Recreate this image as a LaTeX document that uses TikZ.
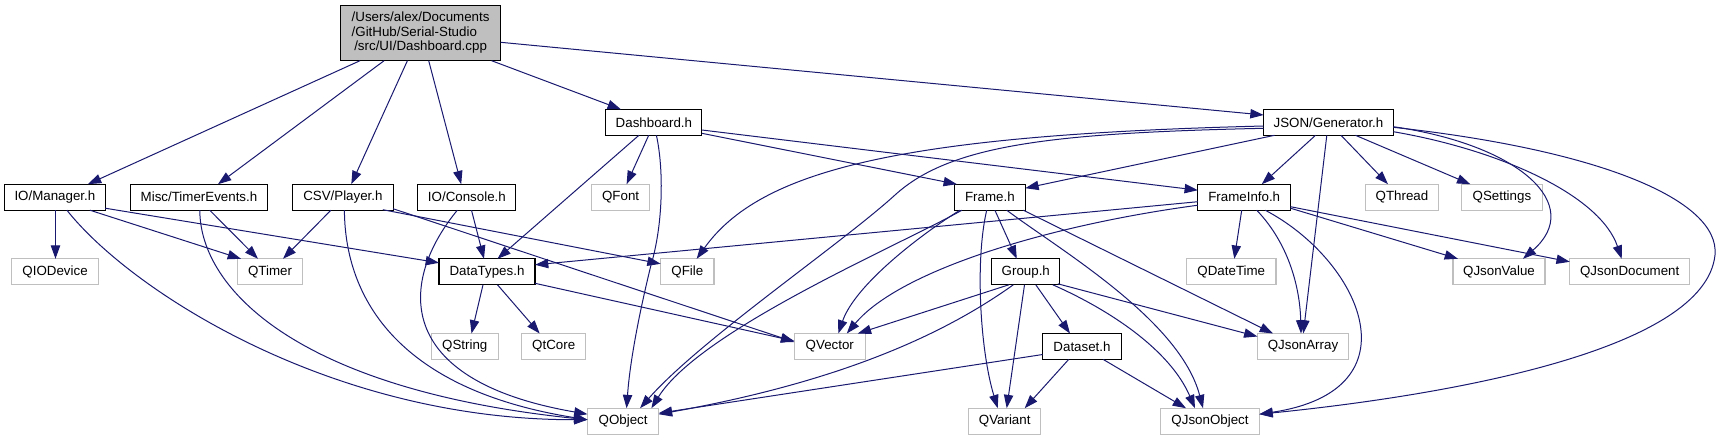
\documentclass[tikz,border=0pt]{standalone}
\usepackage{fontspec}
\setmainfont{Liberation Sans}
\usetikzlibrary{arrows.meta,calc}
\definecolor{edgeblue}{HTML}{191970}
\definecolor{extgrey}{HTML}{BFBFBF}
\definecolor{rootfill}{HTML}{BFBFBF}
\begin{document}
\begin{tikzpicture}[x=0.75pt,y=-0.75pt,
  every node/.style={font=\fontsize{10pt}{11pt}\selectfont, inner sep=0pt, minimum height=19.5pt, fill=white, line width=0.8pt},
  proj/.style={draw=black},
  ext/.style={draw=extgrey},
  rootbox/.style={draw=black, fill=rootfill, minimum height=41.25pt, minimum width=120pt},
  link/.style={draw=edgeblue, line width=0.75pt, -{Triangle[length=10pt,width=7pt]}}]
\useasboundingbox (0,0) rectangle (1724,440);

% nodes
\node[rootbox] (root) at (420.6,33.2) {\begin{tabular}{@{}l@{}}/Users/alex/Documents\\/GitHub/Serial-Studio\\\multicolumn{1}{@{}c@{}}{/src/UI/Dashboard.cpp}\end{tabular}};
\node[proj, minimum width=72pt] (dash) at (653.9,122.3) {Dashboard.h};
\node[proj, minimum width=97.3pt] (gen) at (1328.5,122.3) {JSON/Generator.h};

\node[proj, minimum width=75.5pt] (mgr) at (54.9,197.2) {IO/Manager.h};
\node[proj, minimum width=103.4pt] (tev) at (199,197.2) {Misc/TimerEvents.h};
\node[proj, minimum width=75.2pt] (csv) at (342.9,197.2) {CSV/Player.h};
\node[proj, minimum width=73.5pt] (con) at (466.9,197.2) {IO/Console.h};
\node[ext, minimum width=44pt] (qfont) at (620.6,197.2) {QFont};
\node[proj, minimum width=53.1pt] (frame) at (989.9,197.2) {Frame.h};
\node[proj, minimum width=69.5pt] (finfo) at (1244.2,197.2) {FrameInfo.h};
\node[ext, minimum width=54.2pt] (qthread) at (1402,197.2) {QThread};
\node[ext, minimum width=60.6pt] (qsettings) at (1501.9,197.2) {QSettings};

\node[ext, minimum width=65.4pt] (qiodev) at (55.1,271.8) {QIODevice};
\node[ext, minimum width=49pt] (qtimer) at (270,271.8) {QTimer};
\node[proj, minimum width=72pt] (dtypes) at (487,271.8) {DataTypes.h};
\node[ext, minimum width=40pt] (qfile) at (687.3,271.8) {QFile};
\node[proj, minimum width=51.2pt] (group) at (1025.8,271.8) {Group.h};
\node[ext, minimum width=67pt] (qdatetime) at (1231.3,271.8) {QDateTime};
\node[ext, minimum width=69pt] (qjsonvalue) at (1499,271.8) {QJsonValue};
\node[ext, minimum width=89.9pt] (qjsondoc) at (1629.7,271.8) {QJsonDocument};

\node[ext, minimum width=50.3pt] (qstring) at (464.8,346.5) {QString};
\node[ext, minimum width=48.2pt] (qtcore) at (553.7,346.5) {QtCore};
\node[ext, minimum width=53.3pt] (qvector) at (829.8,346.5) {QVector};
\node[proj, minimum width=59pt] (dataset) at (1082,346.5) {Dataset.h};
\node[ext, minimum width=68.5pt] (qjsonarray) at (1303,346.5) {QJsonArray};

\node[ext, minimum width=53.4pt] (qobject) at (623.1,421.2) {QObject};
\node[ext, minimum width=54pt] (qvariant) at (1004.7,421.2) {QVariant};
\node[ext, minimum width=74pt] (qjsonobject) at (1210,421.2) {QJsonObject};

% root edges
\draw[link] ($(root)+(-60.6,27.5)$) -- ($(mgr)+(33,-13)$);
\draw[link] ($(root)+(-36.5,27.5)$) -- ($(tev)+(19,-13)$);
\draw[link] ($(root)+(-13.2,27.5)$) -- ($(csv)+(8.4,-13)$);
\draw[link] ($(root)+(8.1,27.5)$) -- ($(con)+(-5.7,-13)$);
\draw[link] ($(root)+(71,27.5)$) -- ($(dash)+(-33,-13)$);
\draw[link] ($(root)+(80,9.1)$) -- ($(gen)+(-64.85,-7.3)$);

% Dashboard.h
\draw[link] ($(dash)+(-15,13)$) -- ($(dtypes)+(10.5,-13)$);
\draw[link] ($(dash)+(-5.2,13)$) -- ($(qfont)+(6,-13)$);
\draw[link] ($(dash)+(2.5,13)$) .. controls (664,170) and (663,225) .. (651,265) .. controls (640,310) and (630,360) .. ($(qobject)+(3.5,-13)$);
\draw[link] ($(dash)+(48,11)$) -- ($(frame)+(-33,-13)$);
\draw[link] ($(dash)+(48,7.7)$) -- ($(finfo)+(-46.3,-7)$);

% JSON/Generator.h
\draw[link] ($(gen)+(-54,13)$) -- ($(frame)+(35.4,-9)$);
\draw[link] ($(gen)+(-13,13)$) -- ($(finfo)+(17.6,-13)$);
\draw[link] ($(gen)+(12.5,13)$) -- ($(qthread)+(-14,-13)$);
\draw[link] ($(gen)+(27,13)$) -- ($(qsettings)+(-31.6,-13)$);
\draw[link] ($(gen)+(-1.7,13)$) -- ($(qjsonarray)+(0.3,-13)$);
\draw[link] ($(gen)+(-64.85,3.7)$) .. controls (900,135) and (760,170) .. ($(qfile)+(9.4,-13)$);
\draw[link] ($(gen)+(-64.85,6)$) .. controls (1050,133) and (950,145) .. (895,195) .. controls (840,245) and (700,340) .. ($(qobject)+(17,-13)$);
\draw[link] ($(gen)+(64.85,4.4)$) .. controls (1520,145) and (1585,205) .. ($(qjsonvalue)+(24,-13)$);
\draw[link] ($(gen)+(64.85,9.4)$) .. controls (1500,150) and (1600,195) .. ($(qjsondoc)+(-8,-13)$);
\draw[link] ($(gen)+(64.85,5)$) .. controls (1600,150) and (1720,200) .. (1715,255) .. controls (1705,350) and (1450,395) .. ($(qjsonobject)+(49.35,-7)$);

% Frame.h
\draw[link] ($(frame)+(-28,13)$) .. controls (900,245) and (700,330) .. ($(qobject)+(28.3,-13)$);
\draw[link] ($(frame)+(-30,13)$) .. controls (920,235) and (855,285) .. ($(qvector)+(8.5,-13)$);
\draw[link] ($(frame)+(-3.2,13)$) .. controls (975,260) and (980,350) .. ($(qvariant)+(-7,-13)$);
\draw[link] ($(frame)+(5,13)$) -- ($(group)+(-9,-13)$);
\draw[link] ($(frame)+(16.8,13)$) .. controls (1060,250) and (1180,320) .. ($(qjsonobject)+(-7,-13)$);
\draw[link] ($(frame)+(33.4,13)$) -- ($(qjsonarray)+(-30,-13)$);

% FrameInfo.h
\draw[link] ($(finfo)+(-46.3,4.5)$) -- ($(dtypes)+(48,-7)$);
\draw[link] ($(finfo)+(-46.3,8)$) .. controls (1050,225) and (900,270) .. ($(qvector)+(17,-13)$);
\draw[link] ($(finfo)+(-2.5,13)$) -- ($(qdatetime)+(3,-13)$);
\draw[link] ($(finfo)+(12.5,13)$) .. controls (1290,245) and (1300,290) .. ($(qjsonarray)+(-2,-13)$);
\draw[link] ($(finfo)+(21,13)$) .. controls (1360,260) and (1420,390) .. ($(qjsonobject)+(49.35,-7)$);
\draw[link] ($(finfo)+(46.3,11)$) -- ($(qjsonvalue)+(-41,-13)$);
\draw[link] ($(finfo)+(46.3,9.5)$) -- ($(qjsondoc)+(-59.9,-10)$);

% Group.h
\draw[link] ($(group)+(-17,13)$) -- ($(qvector)+(28,-13)$);
\draw[link] ($(group)+(-12.5,13)$) .. controls (950,330) and (850,380) .. ($(qobject)+(35.6,-7)$);
\draw[link] ($(group)+(-1.3,13)$) -- ($(qvariant)+(2,-13)$);
\draw[link] ($(group)+(10,13)$) -- ($(dataset)+(-12,-13)$);
\draw[link] ($(group)+(32,12)$) -- ($(qjsonarray)+(-45.6,-10)$);
\draw[link] ($(group)+(27,13)$) .. controls (1110,310) and (1170,350) .. ($(qjsonobject)+(-15,-13)$);

% Dataset.h
\draw[link] ($(dataset)+(-39.35,8)$) -- ($(qobject)+(35.6,-8)$);
\draw[link] ($(dataset)+(-13.4,13)$) -- ($(qvariant)+(20,-13)$);
\draw[link] ($(dataset)+(21.3,13)$) -- ($(qjsonobject)+(-24,-13)$);

% DataTypes.h
\draw[link] ($(dtypes)+(-4,13)$) -- ($(qstring)+(6.7,-13)$);
\draw[link] ($(dtypes)+(10.5,13)$) -- ($(qtcore)+(-14,-13)$);
\draw[link] ($(dtypes)+(48,11.5)$) -- ($(qvector)+(-35.5,-5.5)$);

% IO/Manager.h
\draw[link] ($(mgr)+(0.6,13)$) -- ($(qiodev)+(0.4,-13)$);
\draw[link] ($(mgr)+(35,13)$) -- ($(qtimer)+(-29,-13)$);
\draw[link] ($(mgr)+(50.3,11)$) -- ($(dtypes)+(-48,-9)$);
\draw[link] ($(mgr)+(12,13)$) .. controls (130,290) and (330,420) .. ($(qobject)+(-35.6,-1.5)$);

% Misc/TimerEvents.h
\draw[link] ($(tev)+(10.7,13)$) -- ($(qtimer)+(-12,-13)$);
\draw[link] ($(tev)+(0.8,13)$) .. controls (200,290) and (300,390) .. ($(qobject)+(-35.6,-1.5)$);

% CSV/Player.h
\draw[link] ($(csv)+(-12,13)$) -- ($(qtimer)+(13,-13)$);
\draw[link] ($(csv)+(1.5,13)$) .. controls (345,300) and (400,390) .. ($(qobject)+(-35.6,-1.5)$);
\draw[link] ($(csv)+(40,12.5)$) -- ($(qfile)+(-26.6,-8)$);
\draw[link] ($(csv)+(50.1,11.5)$) -- ($(qvector)+(-35.5,-4.5)$);

% IO/Console.h
\draw[link] ($(con)+(4.6,13)$) -- ($(dtypes)+(-3,-13)$);
\draw[link] ($(con)+(-9.6,13)$) .. controls (400,280) and (390,380) .. ($(qobject)+(-35.6,-7)$);
\end{tikzpicture}
\end{document}
